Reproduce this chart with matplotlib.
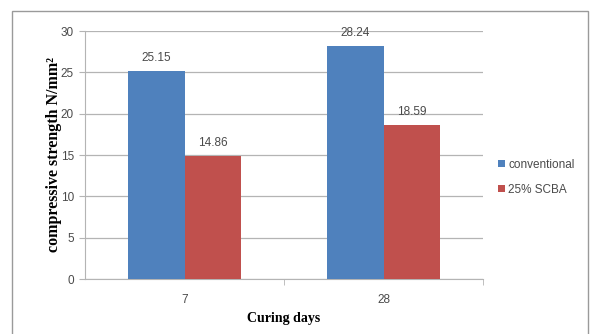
import numpy as np
import matplotlib.pyplot as plt
from matplotlib.patches import Rectangle

# compressive strength at each curing age
days = ["7", "28"]
conventional = [25.15, 28.24]
scba_25 = [14.86, 18.59]
series_names = ["conventional", "25% SCBA"]

BLUE = "#4F81BD"
RED = "#C0504D"
GRID = "#B4B4B4"
TICK_TXT = "#4A4A4A"

fig = plt.figure(figsize=(5.9, 3.34), dpi=100)
fig.patch.set_facecolor("white")

# chart frame
fig.patches.append(Rectangle((12 / 590, -0.05), 576 / 590, 1 - 11 / 334 + 0.05,
                             transform=fig.transFigure, fill=False,
                             edgecolor="#9A9A9A", linewidth=1.0))

ax = fig.add_axes([85 / 590, 1 - 279 / 334, 398 / 590, 248 / 334])

x = np.arange(len(days))
w = 0.283
b1 = ax.bar(x - w / 2, conventional, w, color=BLUE, label=series_names[0], zorder=3)
b2 = ax.bar(x + w / 2, scba_25, w, color=RED, label=series_names[1], zorder=3)

for bars, vals in ((b1, conventional), (b2, scba_25)):
    for rect, v in zip(bars, vals):
        ax.annotate(f"{v:.2f}", (rect.get_x() + rect.get_width() / 2, v),
                    xytext=(0, 5), textcoords="offset points",
                    ha="center", va="bottom", fontsize=8.5, color=TICK_TXT,
                    family="Liberation Sans")

ax.set_xlim(-0.5, 1.5)
ax.set_ylim(0, 30)
ax.set_yticks(range(0, 31, 5))
ax.yaxis.grid(True, color=GRID, linewidth=0.9, zorder=0)
ax.set_axisbelow(True)

ax.set_xticks(x)
ax.set_xticklabels(days)
ax.set_xticks([0.5, 1.5], minor=True)
ax.tick_params(axis="x", which="major", length=0, pad=11)
ax.tick_params(axis="x", which="minor", length=4, color=GRID)
ax.tick_params(axis="y", length=4, color=GRID, pad=4)
for lab in ax.get_xticklabels() + ax.get_yticklabels():
    lab.set_fontsize(8.5)
    lab.set_color(TICK_TXT)
    lab.set_family("Liberation Sans")

for s in ("top", "right"):
    ax.spines[s].set_visible(False)
ax.spines["left"].set_color(GRID)
ax.spines["bottom"].set_color(GRID)

ax.set_xlabel("Curing days", fontsize=10, fontweight="bold",
              family="Liberation Serif", labelpad=4)
ax.set_ylabel("compressive strength N/mm²", fontsize=11.5,
              fontweight="bold", family="Liberation Serif", labelpad=-1)

leg = ax.legend(loc="center left", bbox_to_anchor=(1.01, 0.41), frameon=False,
                prop={"family": "Liberation Sans", "size": 8.5},
                handlelength=0.6, handleheight=0.6, handletextpad=0.3,
                labelspacing=1.1)
for t in leg.get_texts():
    t.set_color(TICK_TXT)

fig.savefig("out.png", dpi=100)
